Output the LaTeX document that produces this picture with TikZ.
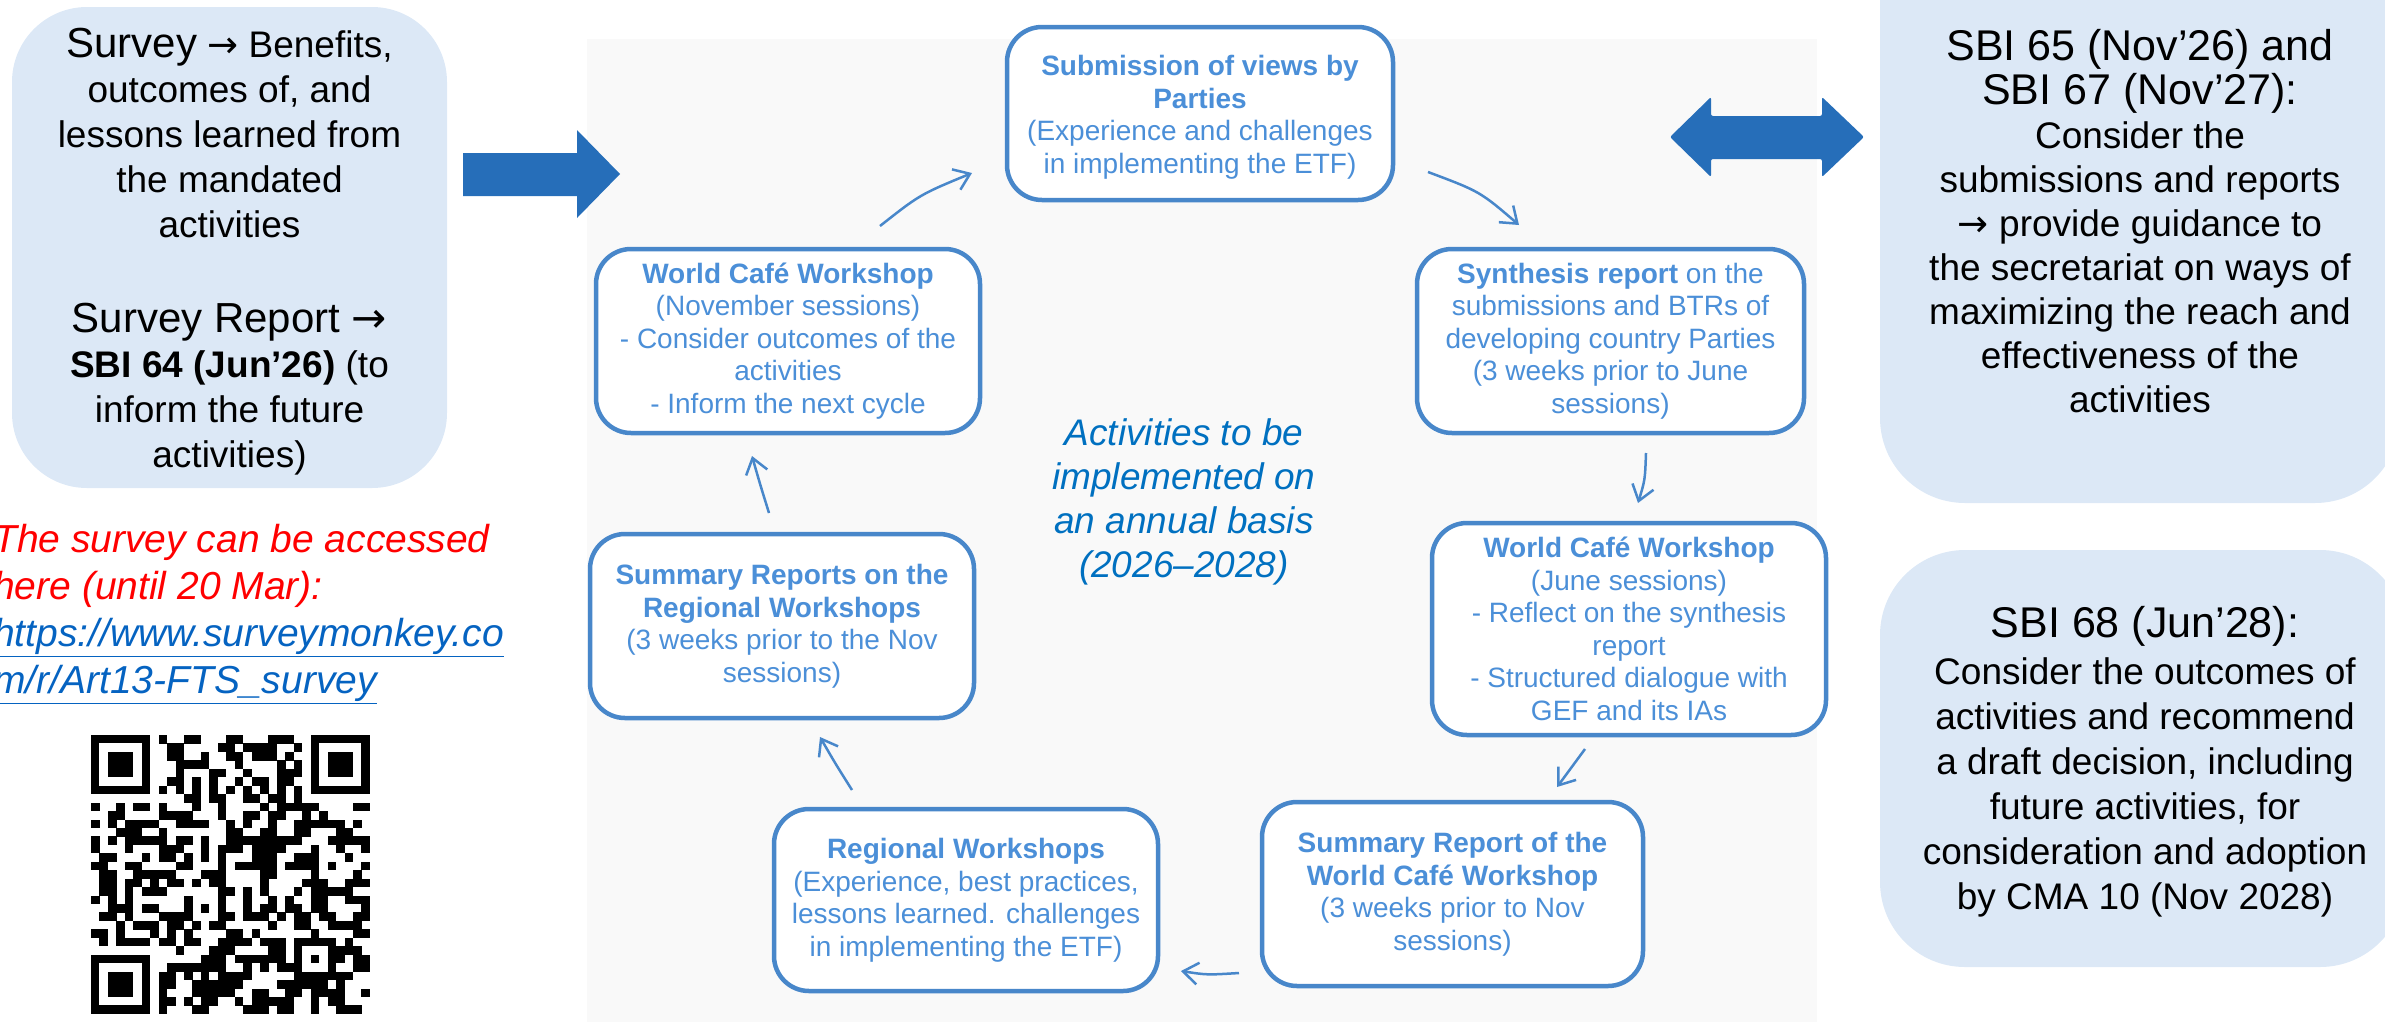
\documentclass[tikz,border=0pt]{standalone}
\usepackage{fontspec}
\setmainfont{Liberation Sans}
\newfontfamily\arrfont{DejaVu Sans}
\usetikzlibrary{arrows.meta}
\definecolor{lightfill}{RGB}{220,232,246}
\definecolor{bggray}{RGB}{249,249,249}
\definecolor{boxline}{RGB}{72,135,202}
\definecolor{boxtext}{RGB}{75,143,216}
\definecolor{bigarrow}{RGB}{38,110,185}
\definecolor{centertext}{RGB}{0,112,192}
\definecolor{linkblue}{RGB}{5,99,193}
\newcommand{\rarr}{{\arrfont →}}
\begin{document}
\begin{tikzpicture}[x=1pt,y=-1pt,
  cyc/.style={draw=boxline, line width=4.5pt, fill=white, rounded corners=35pt,
    align=center, text=boxtext, font=\fontsize{28}{32.5}\selectfont, inner sep=0pt},
  sidetext/.style={align=center, inner sep=0pt, font=\fontsize{37}{45}\selectfont},
  flow/.style={draw=boxline, line width=2.5pt,
    -{Straight Barb[length=15pt,width=22pt]}},
  qrmod/.style={fill=black}
  ]
\useasboundingbox (0,0) rectangle (2385,1026);
\clip (0,0) rectangle (2385,1026);

% background panel
\fill[bggray] (587,39) rectangle (1817,1022);

% left box
\fill[lightfill, rounded corners=75pt] (12,7) rectangle (447,488);
\node[sidetext] (survey) at (229.5,252) {{\fontsize{42}{45}\selectfont Survey} \rarr{} Benefits,\\
outcomes of, and\\
lessons learned from\\
the mandated\\
activities\\[50pt]
{\fontsize{42}{45}\selectfont Survey Report \rarr}\\
\textbf{SBI 64 (Jun’26)} (to\\
inform the future\\
activities)};

% big arrow
\fill[bigarrow] (463,153) -- (577,153) -- (577,130) -- (620,174) -- (577,218) -- (577,196) -- (463,196) -- cycle;

% double arrow
\fill[bigarrow, rounded corners=2pt] (1670,137) -- (1711,97) -- (1711,116) -- (1822,116) -- (1822,97) -- (1864,137) -- (1822,177) -- (1822,159) -- (1711,159) -- (1711,177) -- cycle;

% right boxes
\fill[lightfill, rounded corners=85pt] (1880,-150) rectangle (2400,503);
\node[sidetext, font=\fontsize{37}{44}\selectfont] (sbitop) at (2140,221) {{\fontsize{43}{44}\selectfont SBI 65 (Nov’26) and}\\
{\fontsize{43}{44}\selectfont SBI 67 (Nov’27):}\\
Consider the\\
submissions and reports\\
\rarr{} provide guidance to\\
the secretariat on ways of\\
maximizing the reach and\\
effectiveness of the\\
activities};

\fill[lightfill, rounded corners=85pt] (1880,550) rectangle (2405,967);
\node[sidetext] (sbibot) at (2145,762) {{\fontsize{43}{50}\selectfont SBI 68 (Jun’28):}\\[2pt]
Consider the outcomes of\\
activities and recommend\\
a draft decision, including\\
future activities, for\\
consideration and adoption\\
by CMA 10 (Nov 2028)};

% survey access text
\node[anchor=north west, align=left, inner sep=0pt, font=\fontsize{39}{47}\selectfont\itshape] (access) at (-7,524.5) {\textcolor{red}{The survey can be accessed}\\
\textcolor{red}{here (until 20 Mar):}\\
\textcolor{linkblue}{\underline{https://www.surveymonkey.co}}\\
\textcolor{linkblue}{\underline{m/r/Art13-FTS\_survey}}};

% QR code (pattern)
\begin{scope}[shift={(91,735)}]
\def\qm{8.45}
\pgfmathsetseed{4242}
\foreach \i in {0,...,32}{\foreach \j in {0,...,32}{%
  \pgfmathrandominteger{\qrr}{0}{1}%
  \ifnum\qrr=1\relax\fill[qrmod] ({\i*\qm},{\j*\qm}) rectangle ++(8.6,8.6);\fi}}
\foreach \ox/\oy in {0/0,25/0,0/25}{
  \fill[white] ({\ox*\qm},{\oy*\qm}) rectangle ++({8*\qm},{8*\qm});}
\foreach \ox/\oy in {0/0,26/0,0/26}{
  \fill[qrmod] ({\ox*\qm},{\oy*\qm}) rectangle ++({7*\qm},{7*\qm});
  \fill[white] ({(\ox+1)*\qm},{(\oy+1)*\qm}) rectangle ++({5*\qm},{5*\qm});
  \fill[qrmod] ({(\ox+2)*\qm},{(\oy+2)*\qm}) rectangle ++({3*\qm},{3*\qm});}
\foreach \k in {8,...,24}{
  \fill[white] ({\k*\qm},{6*\qm}) rectangle ++(8.6,8.6);
  \fill[white] ({6*\qm},{\k*\qm}) rectangle ++(8.6,8.6);}
\foreach \k in {8,10,...,24}{
  \fill[qrmod] ({\k*\qm},{6*\qm}) rectangle ++(8.6,8.6);
  \fill[qrmod] ({6*\qm},{\k*\qm}) rectangle ++(8.6,8.6);}
\fill[qrmod] ({24*\qm},{24*\qm}) rectangle ++({5*\qm},{5*\qm});
\fill[white] ({25*\qm},{25*\qm}) rectangle ++({3*\qm},{3*\qm});
\fill[qrmod] ({26*\qm},{26*\qm}) rectangle ++(\qm,\qm);
\end{scope}

% cycle boxes
\node[cyc, minimum width=386pt, minimum height=173pt] (sub) at (1200,113.5)
  {\textbf{\rule{0pt}{28pt}Submission of views by}\\\textbf{Parties}\\(Experience and challenges\\in implementing the ETF)};
\node[cyc, minimum width=384pt, minimum height=184pt] (wcnov) at (788,341)
  {\textbf{World Café Workshop}\\(November sessions)\\- Consider outcomes of the\\activities\\- Inform the next cycle};
\node[cyc, minimum width=387pt, minimum height=184pt] (syn) at (1610.5,341)
  {\textbf{Synthesis report} on the\\submissions and BTRs of\\developing country Parties\\(3 weeks prior to June\\sessions)};
\node[cyc, minimum width=394pt, minimum height=212pt] (wcjune) at (1629,629)
  {\textbf{World Café Workshop}\\(June sessions)\\- Reflect on the synthesis\\report\\- Structured dialogue with\\GEF and its IAs};
\node[cyc, minimum width=381pt, minimum height=184pt] (sumwc) at (1452.5,894)
  {\textbf{Summary Report of the}\\\textbf{World Café Workshop}\\(3 weeks prior to Nov\\sessions)};
\node[cyc, minimum width=384pt, minimum height=182pt] (regional) at (966,900)
  {\textbf{Regional Workshops}\\(Experience, best practices,\\lessons learned. challenges\\in implementing the ETF)};
\node[cyc, minimum width=384pt, minimum height=184pt] (sumrw) at (782,626)
  {\textbf{Summary Reports on the}\\\textbf{Regional Workshops}\\(3 weeks prior to the Nov\\sessions)};

% centre text
\node[align=center, inner sep=0pt, text=centertext, font=\fontsize{37}{44}\selectfont\itshape] (annual) at (1184,502)
  {Activities to be\\implemented on\\an annual basis\\(2026–2028)};

% cycle connectors
\coordinate (f1s) at (880,226);  \coordinate (f1e) at (972,173);
\coordinate (f2s) at (1428,172); \coordinate (f2e) at (1519,225);
\coordinate (f3s) at (1646,453); \coordinate (f3e) at (1638,503);
\coordinate (f4s) at (1585,749); \coordinate (f4e) at (1557,787);
\coordinate (f5s) at (1239,973); \coordinate (f5e) at (1181,971);
\coordinate (f6s) at (852,790);  \coordinate (f6e) at (820,737);
\coordinate (f7s) at (769,513);  \coordinate (f7e) at (752,456);
\draw[flow] (f1s) .. controls (920,194.5) .. (f1e);
\draw[flow] (f2s) .. controls (1480,191.5) .. (f2e);
\draw[flow] (f3s) .. controls (1645,480) .. (f3e);
\draw[flow] (f4s) .. controls (1572,767) .. (f4e);
\draw[flow] (f5s) .. controls (1207,975) .. (f5e);
\draw[flow] (f6s) .. controls (835,763) .. (f6e);
\draw[flow] (f7s) .. controls (760,484) .. (f7e);
\end{tikzpicture}
\end{document}
